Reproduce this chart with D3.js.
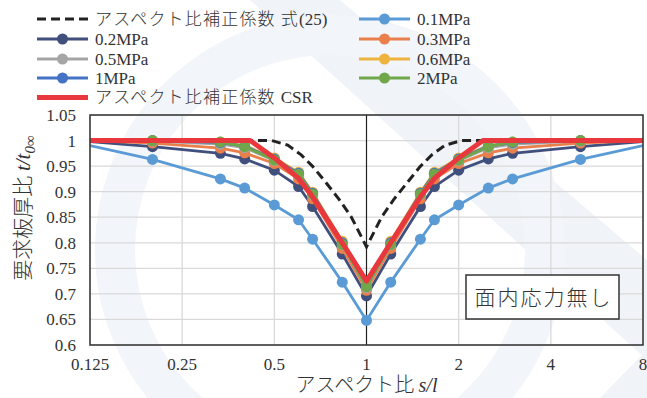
<!DOCTYPE html>
<html><head><meta charset="utf-8">
<script src="https://cdn.jsdelivr.net/npm/d3@7"></script>
<style>html,body{margin:0;padding:0;background:#fff;}svg{display:block;}</style>
</head><body>
<svg id="c" width="647" height="398"></svg>
<script>
// ---- data ----
const xVals = [0.125, 0.2, 0.3333, 0.4, 0.5, 0.6, 0.6667, 0.8333, 1, 1.2, 1.5, 1.6667, 2, 2.5, 3, 5, 8];
const p01 = [0.990, 0.963, 0.925, 0.907, 0.874, 0.845, 0.807, 0.723, 0.648, 0.723, 0.807, 0.845, 0.874, 0.907, 0.925, 0.963, 0.990];
const p02 = [0.998, 0.988, 0.975, 0.964, 0.942, 0.910, 0.871, 0.778, 0.696, 0.778, 0.871, 0.910, 0.942, 0.964, 0.975, 0.988, 0.998];
const p03 = [1.000, 0.995, 0.985, 0.976, 0.955, 0.925, 0.886, 0.789, 0.707, 0.789, 0.886, 0.925, 0.955, 0.976, 0.985, 0.995, 1.000];
const p05 = [1.000, 0.999, 0.993, 0.986, 0.961, 0.933, 0.894, 0.796, 0.712, 0.796, 0.894, 0.933, 0.961, 0.986, 0.993, 0.999, 1.000];
const p06 = [1.000, 1.000, 0.997, 0.990, 0.966, 0.938, 0.899, 0.803, 0.717, 0.803, 0.899, 0.938, 0.966, 0.990, 0.997, 1.000, 1.000];
const p1  = [1.000, 1.000, 0.996, 0.989, 0.964, 0.936, 0.897, 0.800, 0.715, 0.800, 0.897, 0.936, 0.964, 0.989, 0.996, 1.000, 1.000];
const p2  = [1.000, 1.000, 0.997, 0.988, 0.962, 0.934, 0.895, 0.797, 0.714, 0.797, 0.895, 0.934, 0.962, 0.988, 0.997, 1.000, 1.000];
const eqX = [0.125, 0.49, 0.553, 0.612, 0.668, 0.739, 0.816, 0.891, 1, 1.122, 1.225, 1.355, 1.497, 1.634, 1.808, 2.04, 8];
const eqY = [1.000, 1.000, 0.991, 0.972, 0.949, 0.917, 0.884, 0.851, 0.792, 0.851, 0.884, 0.917, 0.949, 0.972, 0.991, 1.000, 1.000];
const csrX = [0.125, 0.417, 0.5, 0.6, 0.6667, 0.8333, 1, 1.2, 1.5, 1.6667, 2, 2.4, 8];
const csrY = [1.000, 1.000, 0.966, 0.926, 0.890, 0.800, 0.725, 0.800, 0.890, 0.926, 0.966, 1.000, 1.000];
const xTicks = [0.125, 0.25, 0.5, 1, 2, 4, 8];
const xTickLabels = ["0.125", "0.25", "0.5", "1", "2", "4", "8"];
const yTicks = [0.6, 0.65, 0.7, 0.75, 0.8, 0.85, 0.9, 0.95, 1, 1.05];
const yTickLabels = ["0.6", "0.65", "0.7", "0.75", "0.8", "0.85", "0.9", "0.95", "1", "1.05"];
const seriesNames = ["0.1MPa", "0.2MPa", "0.3MPa", "0.5MPa", "0.6MPa", "1MPa", "2MPa"];
const seriesVals = [p01, p02, p03, p05, p06, p1, p2];
const seriesColors = ["#5B9BD5", "#414F7C", "#E9804C", "#A5A5A5", "#EEB33E", "#4472C4", "#71A74B"];
const eqName = ["アスペクト比補正係数 式", "(25)"];
const csrName = ["アスペクト比補正係数 ", "CSR"];
const boxLabel = "面内応力無し";

// ---- layout ----
const svg = d3.select("#c");
const L = 90, R = 643, T = 115, B = 345;
const x = d3.scaleLog().base(2).domain([0.125, 8]).range([L, R]);
const y = d3.scaleLinear().domain([0.6, 1.05]).range([B, T]);
const FONT = "'Liberation Serif', 'Noto Sans CJK JP', serif";
const JP = "'Noto Sans CJK JP', sans-serif";

// faint watermark shapes
const wm = svg.append("g").attr("fill", "#F0F4F9");
wm.append("path").attr("d", "M250,0 L340,0 L647,260 L647,360 Z");
wm.append("path").attr("d", "M600,398 L647,350 L647,398 Z");
wm.append("circle").attr("cx", 330).attr("cy", 250).attr("r", 215).attr("fill", "none")
  .attr("stroke", "#F2F5FA").attr("stroke-width", 40);

// gridlines
const grid = svg.append("g");
grid.selectAll("line.h").data(yTicks).join("line")
  .attr("x1", L).attr("x2", R).attr("y1", d => y(d)).attr("y2", d => y(d))
  .attr("stroke", "#D9D9D9").attr("stroke-width", 1.3);
grid.selectAll("line.v").data(xTicks).join("line")
  .attr("y1", T).attr("y2", B).attr("x1", d => x(d)).attr("x2", d => x(d))
  .attr("stroke", d => d === 1 ? "#222" : "#D9D9D9").attr("stroke-width", d => d === 1 ? 1.2 : 1.3);

// axis labels
svg.append("g").selectAll("text").data(yTicks).join("text")
  .attr("x", 76).attr("y", d => y(d)).attr("dy", "0.35em").attr("text-anchor", "end")
  .attr("font-family", FONT).attr("font-size", 17).attr("fill", "#333")
  .text((d, i) => yTickLabels[i]);
svg.append("g").selectAll("text").data(xTicks).join("text")
  .attr("x", d => x(d)).attr("y", 370).attr("text-anchor", "middle")
  .attr("font-family", FONT).attr("font-size", 17).attr("fill", "#333")
  .text((d, i) => xTickLabels[i]);

// axis titles
const xt = svg.append("text").attr("x", x(1)).attr("y", 392).attr("text-anchor", "middle")
  .attr("font-family", FONT).attr("font-size", 20).attr("fill", "#333");
xt.append("tspan").attr("font-family", JP).attr("font-weight", 300).text("アスペクト比 ");
xt.append("tspan").attr("font-style", "italic").text("s/l");

const yt = svg.append("text").attr("transform", "translate(30,208) rotate(-90)").attr("text-anchor", "middle")
  .attr("font-family", FONT).attr("font-size", 21).attr("fill", "#333");
yt.append("tspan").attr("font-family", JP).attr("font-weight", 300).text("要求板厚比 ");
yt.append("tspan").attr("font-style", "italic").text("t/t");
yt.append("tspan").attr("font-style", "italic").attr("font-size", 15).attr("dy", 5).text("0∞");

// series
svg.append("clipPath").attr("id", "pc").append("rect")
  .attr("x", L).attr("y", T - 10).attr("width", R - L).attr("height", B - T + 10);
const plot = svg.append("g").attr("clip-path", "url(#pc)");
const line = d3.line().x(d => x(d[0])).y(d => y(d[1]));

plot.append("path").datum(eqX.map((v, i) => [v, eqY[i]])).attr("d", line)
  .attr("fill", "none").attr("stroke", "#222").attr("stroke-width", 3).attr("stroke-dasharray", "9,5");

seriesVals.forEach((vals, si) => {
  const pts = xVals.map((v, i) => [v, vals[i]]);
  const g = plot.append("g");
  g.append("path").datum(pts).attr("d", line).attr("fill", "none")
    .attr("stroke", seriesColors[si]).attr("stroke-width", 2.8);
  g.selectAll("circle").data(pts.filter(p => p[0] > 0.125 && p[0] < 8)).join("circle")
    .attr("cx", d => x(d[0])).attr("cy", d => y(d[1])).attr("r", 5.5)
    .attr("fill", seriesColors[si]);
});

plot.append("path").datum(csrX.map((v, i) => [v, csrY[i]])).attr("d", line)
  .attr("fill", "none").attr("stroke", "#E8383D").attr("stroke-width", 5).attr("stroke-linejoin", "round");

// frame
svg.append("rect").attr("x", L).attr("y", T).attr("width", R - L).attr("height", B - T)
  .attr("fill", "none").attr("stroke", "#333").attr("stroke-width", 1.5);

// label box
svg.append("rect").attr("x", 466).attr("y", 275).attr("width", 153).attr("height", 44)
  .attr("fill", "#fff").attr("stroke", "#333").attr("stroke-width", 1.5);
svg.append("text").attr("x", 543.5).attr("y", 297).attr("dy", "0.36em").attr("text-anchor", "middle")
  .attr("font-family", JP).attr("font-weight", 300).attr("font-size", 21)
  .attr("letter-spacing", 2).attr("fill", "#333").text(boxLabel);

// legend
const leg = svg.append("g");
function legItem(x0, yy, color, dashed, marker, width, label) {
  leg.append("line").attr("x1", x0).attr("x2", x0 + 51).attr("y1", yy).attr("y2", yy)
    .attr("stroke", color).attr("stroke-width", width)
    .attr("stroke-dasharray", dashed ? "9,5" : null);
  if (marker) leg.append("circle").attr("cx", x0 + 25.5).attr("cy", yy).attr("r", 5.5).attr("fill", color);
  const t = leg.append("text").attr("x", x0 + 58).attr("y", yy).attr("dy", "0.35em")
    .attr("font-family", FONT).attr("font-size", 17).attr("fill", "#333");
  if (Array.isArray(label)) {
    t.append("tspan").attr("font-family", JP).attr("font-weight", 300).attr("font-size", 17)
      .attr("letter-spacing", 1.2).text(label[0]);
    t.append("tspan").text(label[1]);
  } else t.text(label);
}
const rowsY = [19, 39, 59, 78, 97.5];
legItem(37, rowsY[0], "#222", true, false, 3, eqName);
legItem(359, rowsY[0], seriesColors[0], false, true, 2.8, seriesNames[0]);
legItem(37, rowsY[1], seriesColors[1], false, true, 2.8, seriesNames[1]);
legItem(359, rowsY[1], seriesColors[2], false, true, 2.8, seriesNames[2]);
legItem(37, rowsY[2], seriesColors[3], false, true, 2.8, seriesNames[3]);
legItem(359, rowsY[2], seriesColors[4], false, true, 2.8, seriesNames[4]);
legItem(37, rowsY[3], seriesColors[5], false, true, 2.8, seriesNames[5]);
legItem(359, rowsY[3], seriesColors[6], false, true, 2.8, seriesNames[6]);
legItem(37, rowsY[4], "#E8383D", false, false, 5, csrName);
</script>
</body></html>
